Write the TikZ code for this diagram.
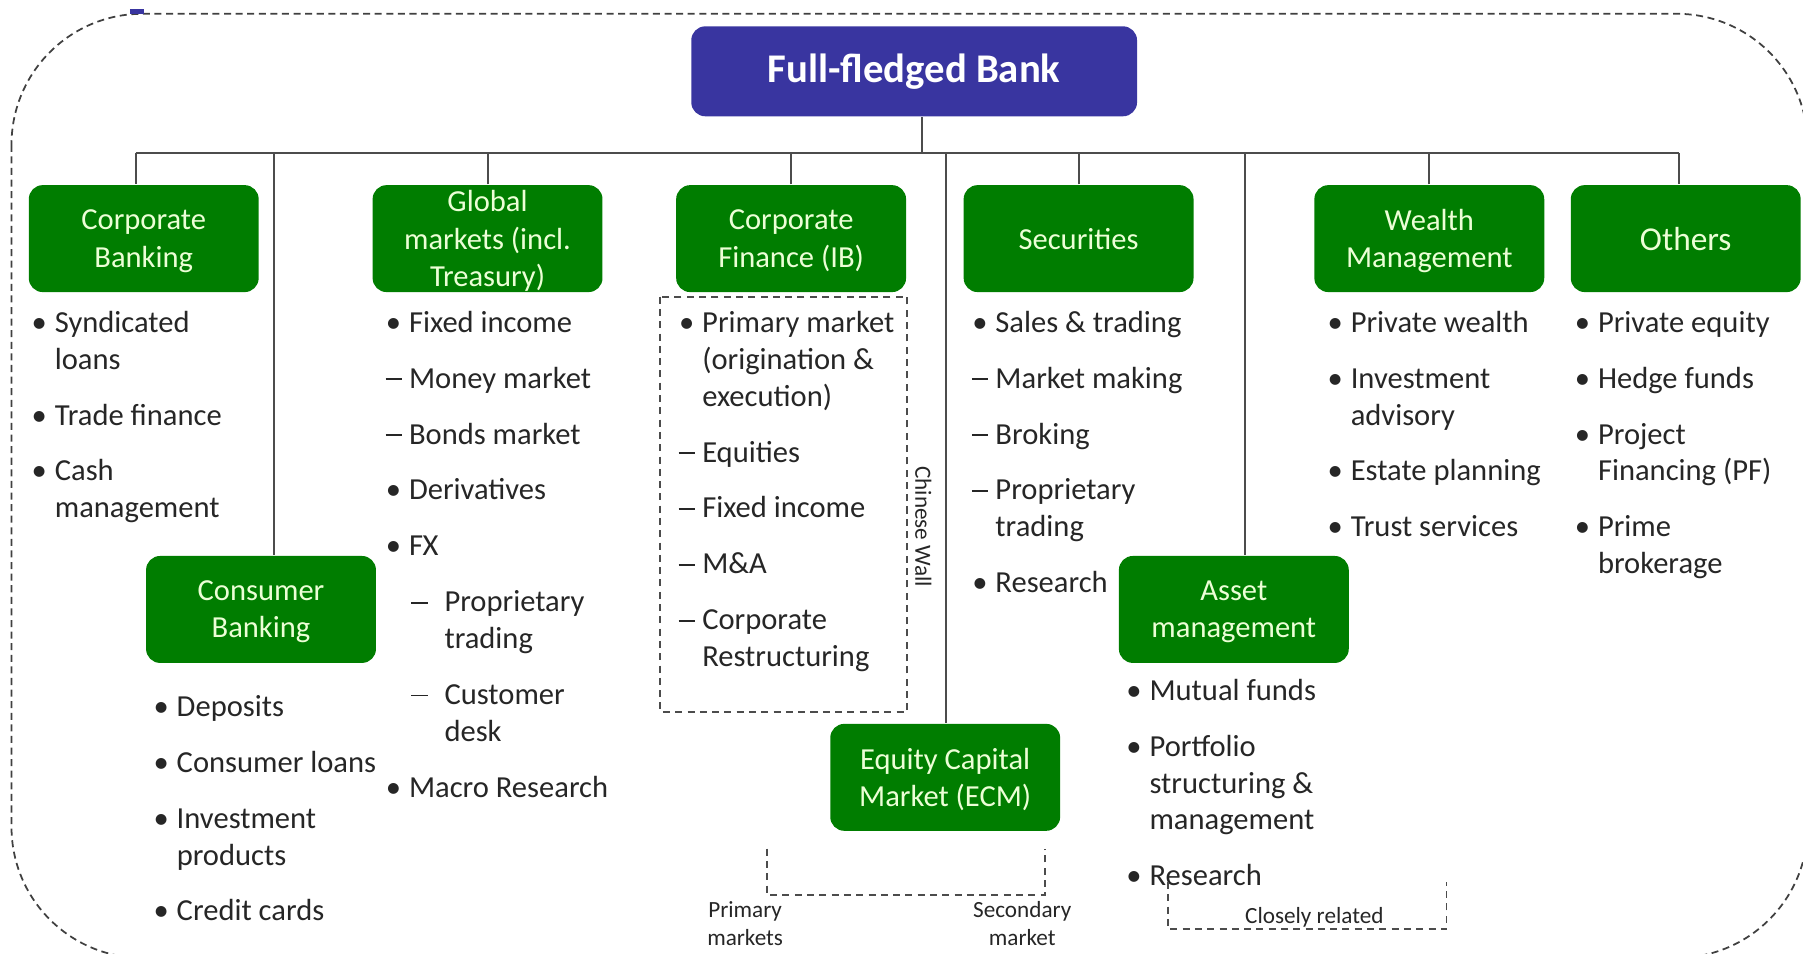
\documentclass[tikz,border=0pt]{standalone}
\usepackage{fontspec}
\setmainfont{Carlito}
\usetikzlibrary{positioning}
\definecolor{bankblue}{RGB}{57,53,160}
\definecolor{unitgreen}{RGB}{0,125,0}
\definecolor{unittext}{RGB}{236,255,214}
\newcommand{\bu}{\makebox[5.6pt][l]{\hspace{-1pt}\textbullet}}
\newcommand{\da}{\makebox[5.6pt][l]{\hspace{-1.1pt}\raisebox{2.3pt}{\rule{4.6pt}{0.5pt}}}}
\newcommand{\sda}{\makebox[15.7pt][l]{\hspace{6.3pt}\raisebox{2.3pt}{\rule{4.6pt}{0.5pt}}}}
\newcommand{\ind}{\hspace*{5.6pt}}
\newcommand{\sind}{\hspace*{15.7pt}}

\begin{document}
\begin{tikzpicture}[x=0.0115cm, y=-0.0115cm]
    \tikzstyle{every node}=[inner sep=0pt, text=black!85]
    \tikzstyle{unit}=[rectangle, rounded corners=0.14cm, fill=unitgreen, text=unittext, minimum width=2.3cm, minimum height=1.07cm, align=center, text depth=0pt, font=\fontsize{8.7}{10.6}\selectfont]
    \tikzstyle{list}=[anchor=north west, align=left, font=\fontsize{8.7}{10.5}\selectfont]
    \tikzstyle{conn}=[draw=black!70, line width=0.6pt]
    \tikzstyle{brace}=[draw=black!70, dash pattern=on 2pt off 1.5pt, line width=0.5pt]
    \tikzstyle{small}=[font=\fontsize{6.6}{7.9}\selectfont, align=center]

    \useasboundingbox (0,0) rectangle (1568,829);
    \clip (0,0) rectangle (1568,829);

    % outer frame
    \draw[black!75, dash pattern=on 2pt off 1.3pt, line width=0.5pt, rounded corners=1.31cm] (10,12) rectangle (1572,833);
    \draw[bankblue, line width=1.2pt] (113,10) -- (125,10);

    \node[rectangle, rounded corners=0.14cm, fill=bankblue, text=white, minimum width=4.46cm, minimum height=0.9cm, font=\fontsize{11.6}{14}\selectfont\bfseries] (bank) at (795,62) {Full-fledged Bank};

    \node[unit] (corp) at (125,207.5) {Corporate\\Banking};
    \node[unit] (glob) at (424,207.5) {Global\\markets (incl.\\Treasury)};
    \node[unit] (cfin) at (688,207.5) {Corporate\\Finance (IB)};
    \node[unit] (secu) at (938,207.5) {Securities};
    \node[unit] (weal) at (1243,207.5) {Wealth\\Management};
    \node[unit, font=\fontsize{9.5}{11}\selectfont] (oth) at (1466,207.5) {Others};
    \node[unit] (cons) at (227,530) {Consumer\\Banking};
    \node[unit] (ecm) at (822,676) {Equity Capital\\Market (ECM)};
    \node[unit] (asset) at (1073,530) {Asset\\management};

    % bus
    \coordinate (busl) at (118,133);
    \coordinate (busr) at (1460,133);
    \coordinate (jbank) at (802,133);
    \coordinate (jcons) at (238,133);
    \coordinate (jecm) at (823,133);
    \coordinate (jasset) at (1083,133);
    \draw[conn] (busl) -- (busr);
    \draw[conn] (jbank) -- (jbank |- bank.south);
    \draw[conn] (busl) -- (busl |- corp.north);
    \draw[conn] (busr) -- (busr |- oth.north);
    \foreach \n in {glob,cfin,secu,weal}
        \draw[conn] (\n.north) -- (\n.north |- busl);
    \draw[conn] (jcons) -- (jcons |- cons.north);
    \draw[conn] (jecm) -- (jecm |- ecm.north);
    \draw[conn] (jasset) -- (jasset |- asset.north);

    % lists
    \node[list] (corpl) at (30,266) {\strut\bu Syndicated\\ \ind loans\\[5.4pt] \bu Trade finance\\[5.4pt] \bu Cash\\ \ind management};
    \node[list] (globl) at (338,266) {\strut\bu Fixed income\\[5.4pt] \da Money market\\[5.4pt] \da Bonds market\\[5.4pt] \bu Derivatives\\[5.4pt] \bu FX\\[5.4pt] \sda Proprietary\\ \sind trading\\[5.4pt] \sda Customer\\ \sind desk\\[5.4pt] \bu Macro Research};
    \node[list] (cfinl) at (593,266) {\strut\bu Primary market\\ \ind (origination \&\\ \ind execution)\\[5.4pt] \da Equities\\[5.4pt] \da Fixed income\\[5.4pt] \da M\&A\\[5.4pt] \da Corporate\\ \ind Restructuring};
    \node[list] (secul) at (848,266) {\strut\bu Sales \& trading\\[5.4pt] \da Market making\\[5.4pt] \da Broking\\[5.4pt] \da Proprietary\\ \ind trading\\[5.4pt] \bu Research};
    \node[list] (weall) at (1157,266) {\strut\bu Private wealth\\[5.4pt] \bu Investment\\ \ind advisory\\[5.4pt] \bu Estate planning\\[5.4pt] \bu Trust services};
    \node[list] (othl) at (1372,266) {\strut\bu Private equity\\[5.4pt] \bu Hedge funds\\[5.4pt] \bu Project\\ \ind Financing (PF)\\[5.4pt] \bu Prime\\ \ind brokerage};
    \node[list] (consl) at (136,600) {\strut\bu Deposits\\[5.4pt] \bu Consumer loans\\[5.4pt] \bu Investment\\ \ind products\\[5.4pt] \bu Credit cards};
    \node[list] (assetl) at (982,586) {\strut\bu Mutual funds\\[5.4pt] \bu Portfolio\\ \ind structuring \&\\ \ind management\\[5.4pt] \bu Research};

    % chinese wall
    \draw[brace] (574,258) rectangle (789,619);
    \node[small, rotate=-90] (wall) at (803,458) {Chinese Wall};

    % ecm markets
    \coordinate (pm) at (667,738);
    \coordinate (sm) at (909,738);
    \draw[brace] (pm) -- ++(0,40) -| (sm);
    \node[small] (pml) at (648,803) {Primary\\markets};
    \node[small] (sml) at (889,803) {Secondary\\market};

    % closely related
    \coordinate (cr1) at (1016,767);
    \coordinate (cr2) at (1258,767);
    \draw[brace] (cr1) -- ++(0,41) -| (cr2);
    \node[small] (crl) at (1143,798) {Closely related};
\end{tikzpicture}
\end{document}
